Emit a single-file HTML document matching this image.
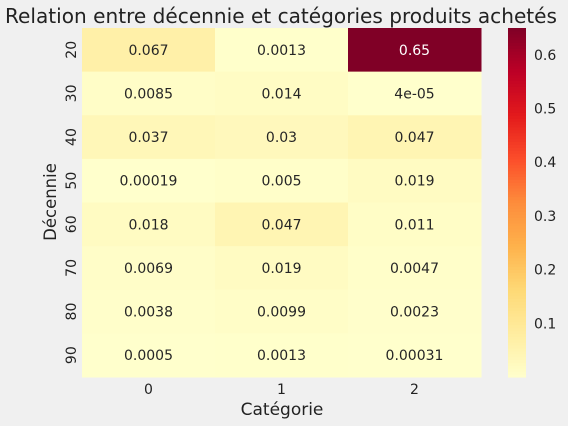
<!DOCTYPE html>
<html><head><meta charset="utf-8"><style>
body{margin:0;background:#f0f0f0;}
svg{display:block;font-family:"DejaVu Sans","Liberation Sans",sans-serif;}
</style></head><body>
<svg id="chart" width="568" height="426">
<rect width="568" height="426" fill="#f0f0f0"/>
<text x="281" y="23" font-size="20.5" text-anchor="middle" fill="#222" textLength="552" lengthAdjust="spacingAndGlyphs">Relation entre décennie et catégories produits achetés</text>
<g id="cells"></g>
<g id="cbar"></g>
<text x="282" y="415" font-size="17" text-anchor="middle" fill="#222">Catégorie</text>
<text transform="translate(56,202) rotate(-90)" font-size="16.5" text-anchor="middle" fill="#222">Décennie</text>
</svg>
<script>
const categories=["0","1","2"];
const decades=["20","30","40","50","60","70","80","90"];
const col0=[0.067,0.0085,0.037,0.00019,0.018,0.0069,0.0038,0.0005];
const col1=[0.0013,0.014,0.03,0.005,0.047,0.019,0.0099,0.0013];
const col2=[0.65,0.00004,0.047,0.019,0.011,0.0047,0.0023,0.00031];
const labels0=["0.067","0.0085","0.037","0.00019","0.018","0.0069","0.0038","0.0005"];
const labels1=["0.0013","0.014","0.03","0.005","0.047","0.019","0.0099","0.0013"];
const labels2=["0.65","4e-05","0.047","0.019","0.011","0.0047","0.0023","0.00031"];
const cbTicks=[0.1,0.2,0.3,0.4,0.5,0.6];
const NS="http://www.w3.org/2000/svg";
const stops=["#ffffcc","#ffeda0","#fed976","#feb24c","#fd8d3c","#fc4e2a","#e31a1c","#bd0026","#800026"];
const cols=[col0,col1,col2],labs=[labels0,labels1,labels2];
const all=cols.flat();const vmin=Math.min(...all),vmax=Math.max(...all);
function hex(h){return [1,3,5].map(i=>parseInt(h.substr(i,2),16));}
function cmap(v){let t=(v-vmin)/(vmax-vmin);t=Math.max(0,Math.min(1,t))*(stops.length-1);
 const i=Math.min(Math.floor(t),stops.length-2),f=t-i;const a=hex(stops[i]),b=hex(stops[i+1]);
 return "rgb("+a.map((x,k)=>Math.round(x+(b[k]-x)*f)).join(",")+")";}
const X0=82,X1=481,Y0=28,Y1=377;
const cw=(X1-X0)/categories.length,rh=(Y1-Y0)/decades.length;
const xs=i=>X0+i*cw, ys=j=>Y0+j*rh;
const g=document.getElementById("cells");
function mk(tag,attrs,parent){const e=document.createElementNS(NS,tag);for(const k in attrs)e.setAttribute(k,attrs[k]);parent.appendChild(e);return e;}
cols.forEach((c,i)=>{c.forEach((v,j)=>{
 const r=mk("rect",{x:xs(i),y:ys(j),width:cw+0.5,height:rh+0.5,fill:cmap(v)},g);
 
 
 const t=mk("text",{x:xs(i)+cw/2,y:ys(j)+rh/2+5,"font-size":14,"text-anchor":"middle",fill:(v-vmin)/(vmax-vmin)>0.6?"#fff":"#262626"},g);
 t.textContent=labs[i][j];
 
 
});});
categories.forEach((c,i)=>{const t=mk("text",{x:xs(i)+cw/2,y:394,"font-size":14,"text-anchor":"middle",fill:"#222"},g);t.textContent=c;
 
 });
decades.forEach((d,j)=>{const cy=ys(j)+rh/2;const t=mk("text",{x:0,y:0,"font-size":14,"text-anchor":"middle",fill:"#222",transform:"translate(76,"+cy+") rotate(-90)"},g);t.textContent=d;
 
 });
const cb=document.getElementById("cbar");
const CX=508,CW=18,N=120;
for(let k=0;k<N;k++){const v0=vmin+(vmax-vmin)*k/N;const y=Y1-(Y1-Y0)*(k+1)/N;
 const r=mk("rect",{x:CX,y:y,width:CW,height:(Y1-Y0)/N+0.6,fill:cmap(v0+(vmax-vmin)/(2*N))},cb);
 
 }
const cy=v=>Y1-(v-vmin)/(vmax-vmin)*(Y1-Y0);
cbTicks.forEach(v=>{const t=mk("text",{x:CX+CW+8,y:cy(v)+5,"font-size":14,fill:"#222"},cb);t.textContent=v.toString();
 
 });
</script>
</body></html>
